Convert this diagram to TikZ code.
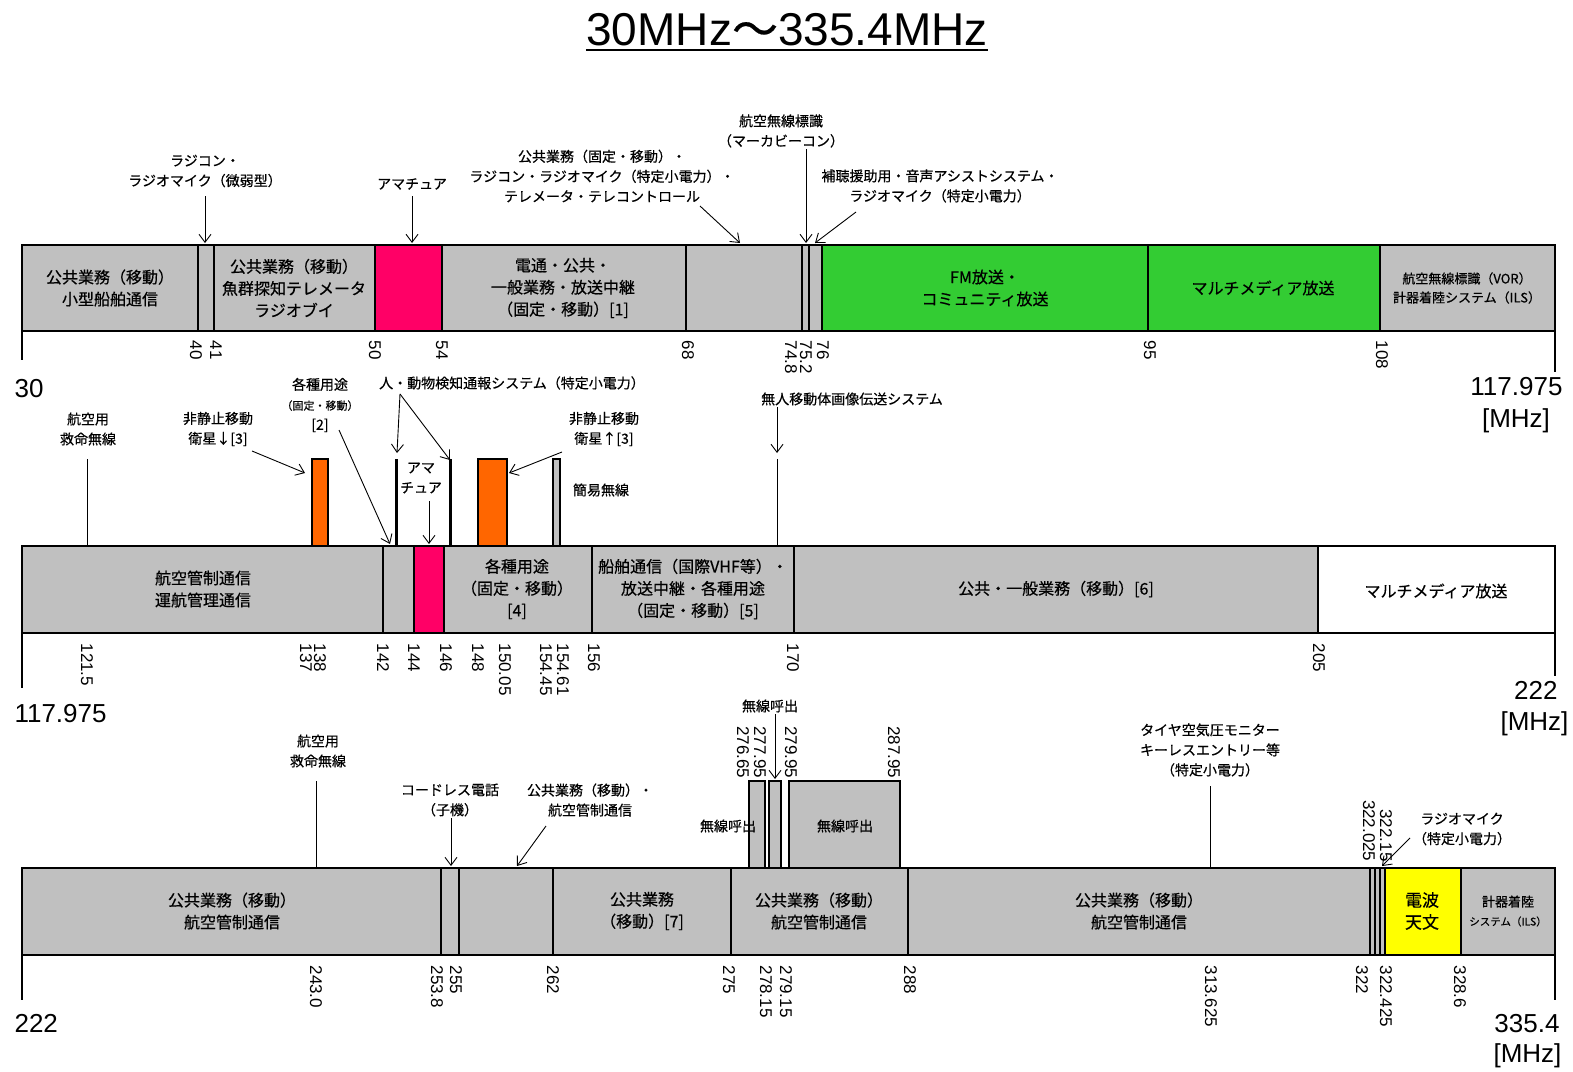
\documentclass[tikz,border=0pt]{standalone}
\usepackage{fontspec}
\setmainfont{Liberation Sans}
\newfontfamily\jp[FakeBold=0.5]{Noto Sans CJK JP}
\usetikzlibrary{arrows.meta}

\definecolor{bandgray}{HTML}{C0C0C0}
\definecolor{hampink}{HTML}{FF0066}
\definecolor{fmgreen}{HTML}{33CC33}
\definecolor{satorange}{HTML}{FF6600}
\definecolor{astroyellow}{HTML}{FFFF00}

\begin{document}
\begin{tikzpicture}[x=1pt, y=-1pt, line width=1.1pt,
    >={Straight Barb[length=8pt,width=12pt]},
    band/.style={draw=black, fill=bandgray},
    bandtext/.style={font=\jp\fontsize{16}{22}\selectfont, align=center, inner sep=1pt},
    smalltext/.style={font=\jp\fontsize{13}{19}\selectfont, align=center, inner sep=1pt},
    note/.style={font=\jp\fontsize{14}{20}\selectfont, align=center, inner sep=1pt},
    tick/.style={font=\fontsize{17}{17}\selectfont, rotate=-90, anchor=west, inner sep=0pt},
    uptick/.style={tick, anchor=east},
    endval/.style={font=\fontsize{26}{28}\selectfont, inner sep=0pt},
    pointer/.style={->, line width=0.9pt},
    stem/.style={line width=0.9pt}]

  \useasboundingbox (0,0) rectangle (1573,1071);

  % -- Title --
  \node[font=\fontsize{46}{50}\selectfont, inner sep=0pt] (title) at (787,30) {30MHz{\jp ～}335.4MHz};
  \draw[line width=1.5pt] ([yshift=-4pt]title.base west) -- ([yshift=-4pt]title.base east);

  % ===== Row 1: 30 -- 117.975 MHz =====

  % -- Bands --
  \draw[band] (22,245) rectangle (198,331);
  \draw[band] (198,245) rectangle (214,331);
  \draw[band] (214,245) rectangle (375,331);
  \draw[band, fill=hampink] (375,245) rectangle (442,331);
  \draw[band] (442,245) rectangle (686,331);
  \draw[band] (686,245) rectangle (802,331);
  \draw[band] (802,245) rectangle (809,331);
  \draw[band] (809,245) rectangle (822,331);
  \draw[band, fill=fmgreen] (822,245) rectangle (1148,331);
  \draw[band, fill=fmgreen] (1148,245) rectangle (1380,331);
  \draw[band] (1380,245) rectangle (1555,331);

  \node[bandtext] (ra) at (110,288) {公共業務（移動）\\小型船舶通信};
  \node[bandtext] (rb) at (294,288) {公共業務（移動）\\魚群探知テレメータ\\ラジオブイ};
  \node[bandtext] (rc) at (563,288) {電通・公共・\\一般業務・放送中継\\（固定・移動）[1]};
  \node[bandtext] (rd) at (985,288) {FM放送・\\コミュニティ放送};
  \node[bandtext] (re) at (1263,288) {マルチメディア放送};
  \node[smalltext] (rf) at (1467,288) {航空無線標識（VOR）\\計器着陸システム（ILS）};

  % -- Labels above --
  \node[note] (na) at (205,171) {ラジコン・\\ラジオマイク（微弱型）};
  \node[note] (nb) at (412,184) {アマチュア};
  \node[note] (nc) at (602,176) {公共業務（固定・移動）・\\ラジコン・ラジオマイク（特定小電力）・\\テレメータ・テレコントロール};
  \node[note] (nd) at (781,131) {航空無線標識\\（マーカビーコン）};
  \node[note] (ne) at (940,186) {補聴援助用・音声アシストシステム・\\ラジオマイク（特定小電力）};

  \coordinate (pa) at (205,243);
  \coordinate (pb) at (412,243);
  \coordinate (pc0) at (700,206);
  \coordinate (pc) at (740,243);
  \coordinate (pd) at (806,243);
  \coordinate (pe0) at (856,212);
  \coordinate (pe) at (815,243);
  \draw[pointer] (na.south |- 0,196) -- (pa);
  \draw[pointer] (nb.south |- 0,196) -- (pb);
  \draw[pointer] (pc0) -- (pc);
  \draw[pointer] (pd |- nd.south) -- (pd);
  \draw[pointer] (pe0) -- (pe);

  % -- Frequencies --
  \node[tick] (ka) at (196,340) {40};
  \node[tick] (kb) at (216,340) {41};
  \node[tick] (kc) at (375,340) {50};
  \node[tick] (kd) at (442,340) {54};
  \node[tick] (ke) at (688,340) {68};
  \node[tick] (kf) at (791,340) {74.8};
  \node[tick] (kg) at (806,340) {75.2};
  \node[tick] (kh) at (823,340) {76};
  \node[tick] (ki) at (1150,340) {95};
  \node[tick] (kj) at (1382,340) {108};

  \draw (22,331) -- (22,360);
  \draw (1555,331) -- (1555,372);
  \node[endval, anchor=base west] (ea) at (14,397) {30};
  \node[endval, anchor=base east] (eb) at (1563,395) {117.975};
  \node[endval, anchor=base] (ec) at (1516,427) {[MHz]};

  % ===== Row 2: 117.975 -- 222 MHz =====

  % -- Narrow bands above --
  \draw[band, fill=satorange] (312,459) rectangle (328,546);
  \draw[band, fill=satorange] (478,459) rectangle (507,546);
  \draw[band] (553,459) rectangle (560,546);
  \draw[line width=3pt] (396,459) -- (396,546);
  \draw[line width=3pt] (450,459) -- (450,546);

  % -- Bands --
  \draw[band] (22,546) rectangle (383,633);
  \draw[band] (383,546) rectangle (414,633);
  \draw[band, fill=hampink] (414,546) rectangle (444,633);
  \draw[band] (444,546) rectangle (592,633);
  \draw[band] (592,546) rectangle (794,633);
  \draw[band] (794,546) rectangle (1318,633);
  \draw[band, fill=white] (1318,546) rectangle (1555,633);

  \node[bandtext] (sa) at (203,589) {航空管制通信\\運航管理通信};
  \node[bandtext] (sb) at (517,589) {各種用途\\（固定・移動）\\{[4]}};
  \node[bandtext] (sc) at (693,589) {船舶通信（国際VHF等）・\\放送中継・各種用途\\（固定・移動）[5]};
  \node[bandtext] (sd) at (1056,589) {公共・一般業務（移動）[6]};
  \node[bandtext] (se) at (1436,591) {マルチメディア放送};

  % -- Labels above --
  \node[note] (ma) at (88,429) {航空用\\救命無線};
  \node[note] (mb) at (218,429) {非静止移動\\衛星↓[3]};
  \node[note] (mc) at (320,405) {各種用途\\{\fontsize{11}{20}\selectfont（固定・移動）}\\{[2]}};
  \node[note] (md) at (512,383) {人・動物検知通報システム（特定小電力）};
  \node[note] (me) at (421,478) {アマ\\チュア};
  \node[note] (mf) at (604,429) {非静止移動\\衛星↑[3]};
  \node[note] (mg) at (601,490) {簡易無線};
  \node[note] (mh) at (852,399) {無人移動体画像伝送システム};

  \coordinate (qa) at (87,546);
  \coordinate (qb0) at (252,451);
  \coordinate (qb) at (305,473);
  \coordinate (qc0) at (339,430);
  \coordinate (qc) at (390,544);
  \coordinate (qd0) at (400,394);
  \coordinate (qd) at (397,453);
  \coordinate (qe) at (450,460);
  \coordinate (qf) at (429,544);
  \coordinate (qg0) at (562,452);
  \coordinate (qg) at (509,473);
  \coordinate (qh) at (777,453);
  \coordinate (qi) at (777,546);
  \draw[stem] (qa |- 0,459) -- (qa);
  \draw[pointer] (qb0) -- (qb);
  \draw[pointer] (qc0) -- (qc);
  \draw[pointer] (qd0) -- (qd);
  \draw[pointer] (qd0) -- (qe);
  \draw[pointer] (qf |- 0,501) -- (qf);
  \draw[pointer] (qg0) -- (qg);
  \draw[pointer] (qh |- mh.south) -- (qh);
  \draw[stem] (qi |- 0,459) -- (qi);

  % -- Frequencies --
  \node[tick] (la) at (87,643) {121.5};
  \node[tick] (lb) at (306,643) {137};
  \node[tick] (lc) at (320,643) {138};
  \node[tick] (ld) at (383,643) {142};
  \node[tick] (le) at (414,643) {144};
  \node[tick] (lf) at (446,643) {146};
  \node[tick] (lg) at (478,643) {148};
  \node[tick] (lh) at (505,643) {150.05};
  \node[tick] (li) at (546,643) {154.45};
  \node[tick] (lj) at (563,643) {154.61};
  \node[tick] (lk) at (594,643) {156};
  \node[tick] (ll) at (793,643) {170};
  \node[tick] (lm) at (1319,643) {205};

  \draw (22,633) -- (22,688);
  \draw (1555,633) -- (1555,676);
  \node[endval, anchor=base west] (fa) at (14,722) {117.975};
  \node[endval, anchor=base east] (fb) at (1558,699) {222};
  \node[endval, anchor=base east] (fc) at (1569,730) {[MHz]};

  % ===== Row 3: 222 -- 335.4 MHz =====

  % -- Paging bands above --
  \draw[band] (749,781) rectangle (765,868);
  \draw[band] (769,781) rectangle (781,868);
  \draw[band] (789,781) rectangle (900,868);

  % -- Bands --
  \draw[band] (22,868) rectangle (441,955);
  \draw[band] (441,868) rectangle (459,955);
  \draw[band] (459,868) rectangle (553,955);
  \draw[band] (553,868) rectangle (731,955);
  \draw[band] (731,868) rectangle (908,955);
  \draw[band] (908,868) rectangle (1370,955);
  \draw[band] (1370,868) rectangle (1375,955);
  \draw[band] (1375,868) rectangle (1380,955);
  \draw[band] (1380,868) rectangle (1385,955);
  \draw[band, fill=astroyellow] (1385,868) rectangle (1461,955);
  \draw[band] (1461,868) rectangle (1555,955);

  \node[bandtext] (ta) at (232,911) {公共業務（移動）\\航空管制通信};
  \node[bandtext] (tb) at (642,911) {公共業務\\（移動）[7]};
  \node[bandtext] (tc) at (819,911) {公共業務（移動）\\航空管制通信};
  \node[bandtext] (td) at (1139,911) {公共業務（移動）\\航空管制通信};
  \node[bandtext, font=\jp\fontsize{17}{22}\selectfont] (te) at (1422,911) {電波\\天文};
  \node[smalltext] (tf) at (1508,911) {計器着陸\\{\fontsize{10.5}{15}\selectfont システム（ILS）}};

  % -- Labels above --
  \node[note] (oa) at (318,751) {航空用\\救命無線};
  \node[note] (ob) at (450,800) {コードレス電話\\（子機）};
  \node[note] (oc) at (590,800) {公共業務（移動）・\\航空管制通信};
  \node[note] (od) at (770,706) {無線呼出};
  \node[note] (oe) at (728,826) {無線呼出};
  \node[note] (of) at (845,826) {無線呼出};
  \node[note] (og) at (1210,750) {タイヤ空気圧モニター\\キーレスエントリー等\\（特定小電力）};
  \node[note] (oh) at (1462,829) {ラジオマイク\\（特定小電力）};

  \coordinate (ua) at (316,868);
  \coordinate (ub) at (451,866);
  \coordinate (uc0) at (546,826);
  \coordinate (uc) at (517,866);
  \coordinate (ud) at (775,779);
  \coordinate (ue) at (1210,868);
  \coordinate (uf0) at (1410,838);
  \coordinate (uf) at (1382,866);
  \draw[stem] (ua |- 0,781) -- (ua);
  \draw[pointer] (ub |- ob.south) -- (ub);
  \draw[pointer] (uc0) -- (uc);
  \draw[pointer] (ud |- od.south) -- (ud);
  \draw[stem] (ue |- 0,786) -- (ue);
  \draw[pointer] (uf0) -- (uf);

  % -- Frequencies --
  \node[uptick] (va) at (743,779) {276.65};
  \node[uptick] (vb) at (760,779) {277.95};
  \node[uptick] (vc) at (791,779) {279.95};
  \node[uptick] (vd) at (894,779) {287.95};
  \node[uptick] (ve) at (1369,862) {322.025};
  \node[uptick] (vf) at (1386,862) {322.15};

  \node[tick] (wa) at (316,965) {243.0};
  \node[tick] (wb) at (437,965) {253.8};
  \node[tick] (wc) at (456,965) {255};
  \node[tick] (wd) at (553,965) {262};
  \node[tick] (we) at (729,965) {275};
  \node[tick] (wf) at (766,965) {278.15};
  \node[tick] (wg) at (786,965) {279.15};
  \node[tick] (wh) at (910,965) {288};
  \node[tick] (wi) at (1211,965) {313.625};
  \node[tick] (wj) at (1362,965) {322};
  \node[tick] (wk) at (1386,965) {322.425};
  \node[tick] (wl) at (1460,965) {328.6};

  \draw (22,955) -- (22,1000);
  \draw (1555,955) -- (1555,1000);
  \node[endval, anchor=base west] (ga) at (14,1032) {222};
  \node[endval, anchor=base east] (gb) at (1560,1032) {335.4};
  \node[endval, anchor=base east] (gc) at (1562,1062) {[MHz]};

\end{tikzpicture}
\end{document}
